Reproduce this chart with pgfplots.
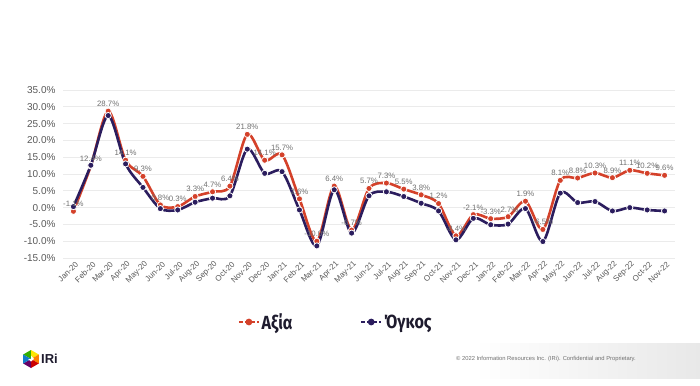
\documentclass[border=0pt]{standalone}
\usepackage{pgfplots}
\pgfplotsset{compat=1.18}
\usepackage{pgfplotstable}
\usepackage{fontspec}
\setmainfont{Liberation Sans}
\newfontfamily\legfont{Fira Sans}
\definecolor{cred}{HTML}{D4412A}
\definecolor{cblue}{HTML}{2B1D5E}
\definecolor{tgray}{HTML}{595959}
\definecolor{lgray}{HTML}{707070}
\definecolor{legtxt}{HTML}{1E1B2E}

\pgfplotstableread{
i a o
0 -1.1 0.3
1 12.4 12.6
2 28.7 27.4
3 14.1 13.0
4 9.3 6.0
5 0.8 -0.3
6 0.3 -0.7
7 3.3 1.6
8 4.7 2.8
9 6.4 3.5
10 21.8 17.4
11 14.1 10.2
12 15.7 10.7
13 2.6 -0.7
14 -10.0 -11.4
15 6.4 5.3
16 -6.7 -7.6
17 5.7 3.5
18 7.3 4.7
19 5.5 3.3
20 3.8 1.3
21 1.2 -1.0
22 -8.4 -9.6
23 -2.1 -3.2
24 -3.3 -5.1
25 -2.7 -4.9
26 1.9 -0.3
27 -6.5 -10.1
28 8.1 4.3
29 8.8 1.5
30 10.3 1.8
31 8.9 -1.0
32 11.1 0.0
33 10.2 -0.7
34 9.6 -1.0
}\datatab

\begin{document}
\begin{tikzpicture}
\useasboundingbox (0,0) rectangle (700pt,385pt);
\shade[left color=white, right color=black!9] (475pt,7pt) rectangle (700pt,42pt);
% logo
\begin{scope}[shift={(31pt,26pt)}]
\fill[green!60!black!80!yellow] (0,0) -- (90:9pt) -- (150:9pt) -- cycle;
\fill[yellow!90!orange] (0,0) -- (30:9pt) -- (90:9pt) -- cycle;
\fill[orange] (0,0) -- (-30:9pt) -- (30:9pt) -- cycle;
\fill[red!80!black] (0,0) -- (-90:9pt) -- (-30:9pt) -- cycle;
\fill[violet!80!black] (0,0) -- (-150:9pt) -- (-90:9pt) -- cycle;
\fill[cyan!60!blue] (0,0) -- (150:9pt) -- (210:9pt) -- cycle;
\fill[white] (0,0) -- (90:3.5pt) -- (0:3pt) -- (-90:2.5pt) -- (180:3pt) -- cycle;
\end{scope}
\node[anchor=west, font=\bfseries\fontsize{13}{14}\selectfont, text=legtxt, inner sep=0pt] at (41pt,26pt) {IRi};
\node[anchor=west, font=\fontsize{5.8}{6}\selectfont, text=lgray, inner sep=0pt] at (456pt,26pt) {© 2022 Information Resources Inc. (IRi). Confidential and Proprietary.};
\begin{axis}[
  at={(63pt,127pt)}, anchor=south west, scale only axis,
  width=612pt, height=168pt,
  xmin=-0.6, xmax=34.6, ymin=-15, ymax=35,
  ytick={-15,-10,...,35},
  xtick={0,...,34},
  xticklabels={Jan-20,Feb-20,Mar-20,Apr-20,May-20,Jun-20,Jul-20,Aug-20,Sep-20,Oct-20,Nov-20,Dec-20,Jan-21,Feb-21,Mar-21,Apr-21,May-21,Jun-21,Jul-21,Aug-21,Sep-21,Oct-21,Nov-21,Dec-21,Jan-22,Feb-22,Mar-22,Apr-22,May-22,Jun-22,Jul-22,Aug-22,Sep-22,Oct-22,Nov-22},
  axis line style={draw=none}, major tick length=0pt,
  ymajorgrids, grid style={draw=black!8, line width=0.8pt},
  /pgf/number format/assume math mode=true,
  yticklabel={\pgfmathprintnumber[fixed,fixed zerofill,precision=1]{\tick}\%},
  y tick label style={font=\fontsize{10}{12}\selectfont, text=tgray, xshift=-4pt},
  x tick label style={font=\fontsize{8}{10}\selectfont, text=tgray, rotate=45, anchor=east, yshift=-6pt, inner sep=1pt},
  clip=false,
  legend columns=2,
  legend style={at={(0.446,-0.381)}, anchor=center, draw=none, fill=none,
    font=\legfont\bfseries\fontsize{19}{21}\selectfont, text=legtxt,
    /tikz/every even column/.append style={column sep=66pt}},
]
\addplot[cred, line width=2.6pt, smooth, mark=*, mark size=3.1pt,
  mark options={fill=cred, draw=white, line width=0.8pt},
  legend image code/.code={\draw[cred, line width=1.3pt, dash pattern=on 4pt off 2pt] (0pt,0pt) -- (20pt,0pt); \fill[cred] (10pt,0pt) circle (2pt);}]
  table[x=i, y=a]{\datatab};
\addlegendentry{\scalebox{0.85}[1]{Αξία}}
\addplot[cblue, line width=2.6pt, smooth, mark=*, mark size=3.1pt,
  mark options={fill=cblue, draw=white, line width=0.8pt},
  legend image code/.code={\draw[cblue, line width=1.3pt, dash pattern=on 4pt off 2pt] (0pt,0pt) -- (20pt,0pt); \fill[cblue] (10pt,0pt) circle (2pt);}]
  table[x=i, y=o]{\datatab};
\addlegendentry{\scalebox{0.85}[1]{Όγκος}}
\addplot[draw=none, forget plot, point meta=explicit,
  nodes near coords={\pgfmathprintnumber[fixed,fixed zerofill,precision=1]{\pgfplotspointmeta}\%},
  every node near coord/.append style={font=\fontsize{7.8}{9}\selectfont, text=lgray, anchor=south, yshift=1pt}]
  table[x=i, y=a, meta=a]{\datatab};
\end{axis}
\end{tikzpicture}
\end{document}
